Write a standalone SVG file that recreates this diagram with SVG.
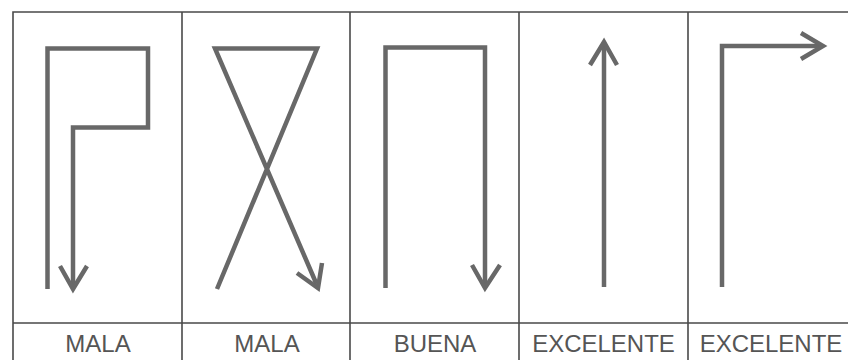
<svg xmlns="http://www.w3.org/2000/svg" width="848" height="360" viewBox="0 0 848 360">
<style>
.frame{fill:none;stroke:#4a4a4a;stroke-width:1.6}
.arrow{fill:none;stroke:#686868;stroke-width:4.5;stroke-linejoin:miter;stroke-linecap:butt}
.head{fill:none;stroke:#686868;stroke-width:4.5;stroke-linejoin:miter;stroke-linecap:butt}
.lbl{font-family:"Liberation Sans",Arial,sans-serif;font-size:24px;fill:#555;text-anchor:middle}
</style>
<rect width="848" height="360" fill="#fff"/>
<g id="frame">
<path class="frame" d="M13,360 V12 H848 M13,323 H848 M182,12 V360 M350,12 V360 M519,12 V360 M688,12 V360"/>
</g>
<g id="panel1">
<path class="arrow" d="M47.5,289 V48.5 H148 V127.5 H73 V287"/>
<path class="head" d="M60,266 L73,289 L87,266"/>
<text class="lbl" x="98" y="352">MALA</text>
</g>
<g id="panel2">
<path class="arrow" d="M217,289 L317,48.5 H215 L316.5,284"/>
<path class="head" d="M297,273 L318,288 L322,263"/>
<text class="lbl" x="267" y="352">MALA</text>
</g>
<g id="panel3">
<path class="arrow" d="M385.5,288 V47.5 H485 V286"/>
<path class="head" d="M472,265 L485,288 L500,265"/>
<text class="lbl" x="435" y="352">BUENA</text>
</g>
<g id="panel4">
<path class="arrow" d="M604,287 V44"/>
<path class="head" d="M590,65 L604,42 L617,65"/>
<text class="lbl" x="603.5" y="352">EXCELENTE</text>
</g>
<g id="panel5">
<path class="arrow" d="M722,287 V46 H821"/>
<path class="head" d="M801,33 L823,46 L801,59"/>
<text class="lbl" x="771" y="352">EXCELENTE</text>
</g>
</svg>
